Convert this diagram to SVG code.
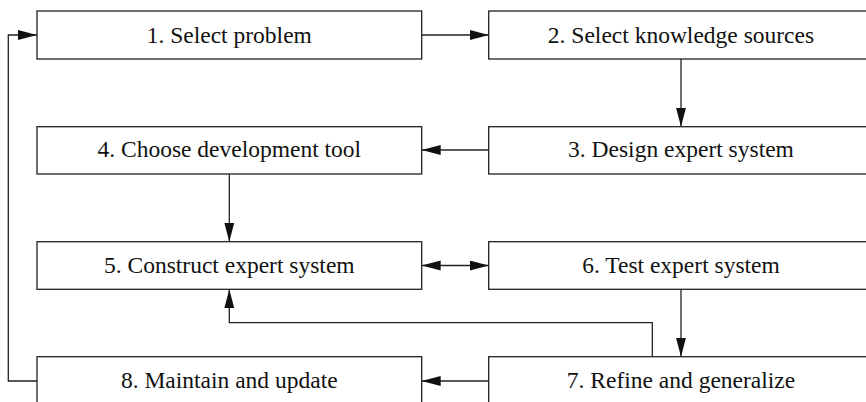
<svg xmlns="http://www.w3.org/2000/svg" width="866" height="402" viewBox="0 0 866 402">
<defs>
<style>
.box{fill:#fff;stroke:#222;stroke-width:1.3}
.lbl{font-family:'Liberation Serif','Times New Roman',serif;font-size:23.5px;fill:#111;text-anchor:middle}
.ln{fill:none;stroke:#222;stroke-width:1.3}
</style>
<marker id="ah" markerUnits="userSpaceOnUse" markerWidth="20" markerHeight="11" refX="19" refY="5" orient="auto-start-reverse" viewBox="0 0 20 11">
<path d="M0,0 L19,5 L0,10 z" fill="#111"/>
</marker>
</defs>
<g id="connectors">
<path class="ln" d="M421.7,35 H488.7" marker-end="url(#ah)"/>
<path class="ln" d="M681,59 V126.7" marker-end="url(#ah)"/>
<path class="ln" d="M488.7,150 H421.7" marker-end="url(#ah)"/>
<path class="ln" d="M229.3,174 V241.7" marker-end="url(#ah)"/>
<path class="ln" d="M421.7,265.5 H488.7" marker-start="url(#ah)" marker-end="url(#ah)"/>
<path class="ln" d="M681,289.3 V356.7" marker-end="url(#ah)"/>
<path class="ln" d="M652.3,356.7 V322.7 H229.3 V289.3" marker-end="url(#ah)"/>
<path class="ln" d="M488.7,381 H421.7" marker-end="url(#ah)"/>
<path class="ln" d="M37,381 H8.3 V35 H37" marker-end="url(#ah)"/>
</g>
<g id="n1"><rect class="box" x="37" y="11" width="384.7" height="48"/><text class="lbl" x="229.3" y="42.5">1. Select problem</text></g>
<g id="n2"><rect class="box" x="488.7" y="11" width="384.7" height="48"/><text class="lbl" x="681" y="42.5">2. Select knowledge sources</text></g>
<g id="n3"><rect class="box" x="488.7" y="126.7" width="384.7" height="47.3"/><text class="lbl" x="681" y="157.4">3. Design expert system</text></g>
<g id="n4"><rect class="box" x="37" y="126.7" width="384.7" height="47.3"/><text class="lbl" x="229.3" y="157.4">4. Choose development tool</text></g>
<g id="n5"><rect class="box" x="37" y="241.7" width="384.7" height="47.6"/><text class="lbl" x="229.3" y="272.5">5. Construct expert system</text></g>
<g id="n6"><rect class="box" x="488.7" y="241.7" width="384.7" height="47.6"/><text class="lbl" x="681" y="272.5">6. Test expert system</text></g>
<g id="n7"><rect class="box" x="488.7" y="356.7" width="384.7" height="48"/><text class="lbl" x="681" y="387.8">7. Refine and generalize</text></g>
<g id="n8"><rect class="box" x="37" y="356.7" width="384.7" height="48"/><text class="lbl" x="229.3" y="387.8">8. Maintain and update</text></g>
</svg>
